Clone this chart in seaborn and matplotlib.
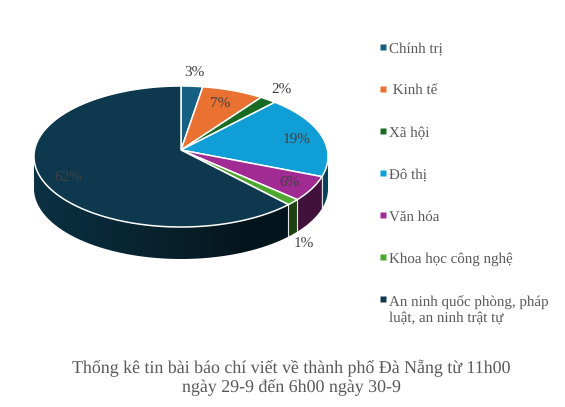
import numpy as np
import seaborn as sns
import matplotlib
matplotlib.use("Agg")
import matplotlib.pyplot as plt
from matplotlib.patches import Polygon

categories = ["Chính trị", " Kinh tế", "Xã hội", "Đô thị", "Văn hóa", "Khoa học công nghệ",
              "An ninh quốc phòng, pháp\nluật, an ninh trật tự"]
values = [2.6, 7.4, 2.0, 19.0, 5.6, 1.4, 62.0]
colors = ["#156082", "#e97132", "#196b24", "#0f9ed5", "#a02b93", "#4ea72e", "#0d384d"]
title = "Thống kê tin bài báo chí viết về thành phố Đà Nẵng từ 11h00\nngày 29-9 đến 6h00 ngày 30-9"

# layout, in pixels of the output
label_xy = [(194, 73), (220, 104), (281, 90), (297, 140), (290, 183), (304, 244), (68, 178)]
CX, CY = 181, 150
RX, RY, K = 146.4, 69.9, 0.0922  # K = how strong the perspective is
DEPTH = 32
LEG_Y, LEG_STEP, LEG_LINE = 47, 42, 17

sns.set_theme(style="white")
plt.rcParams["font.family"] = ["Liberation Serif", "DejaVu Serif"]
plt.rcParams["text.hinting"] = "no_hinting"


def project(theta):
    # tilted circle, theta clockwise from 12 o'clock in degrees
    t = np.radians(theta)
    w = 1 + K * np.cos(t)
    return CX + RX * np.sin(t) / w, CY - RY * np.cos(t) / w


fig = plt.figure(figsize=(5.65, 4.07), dpi=100)
ax = fig.add_axes([0, 0, 1, 1])
ax.axis("off")

edges = np.concatenate([[0], np.cumsum(values)]) * 3.6
side_lo, side_hi = 95.3, 264.7

# side wall: horizontal gradient clipped to each slice's outline
for i, col in enumerate(colors):
    lo, hi = max(edges[i], side_lo), min(edges[i + 1], side_hi)
    if hi <= lo:
        continue
    xs, ys = project(np.linspace(lo, hi, 80))
    outline = np.column_stack([np.r_[xs, xs[::-1]], np.r_[ys, ys[::-1] + DEPTH]])
    x0, x1 = xs.min(), xs.max()
    grid = np.linspace(x0, x1, 200)
    ramp = np.interp(grid, [34, 100, 181, 245, 328], [0.88, 0.72, 0.55, 0.36, 0.42])
    img = np.array(matplotlib.colors.to_rgb(col))[None, None, :] * ramp[None, :, None]
    im = ax.imshow(img, extent=[x0, x1, ys.max() + DEPTH, ys.min()], aspect="auto",
                   interpolation="bilinear", zorder=2)
    im.set_clip_path(Polygon(outline, transform=ax.transData))
    if edges[i + 1] < side_hi:
        xe, ye = project(edges[i + 1])
        ax.plot([xe, xe], [ye, ye + DEPTH], color="white", lw=0.8, alpha=0.85, zorder=3)

ax.set_xlim(0, 565)
ax.set_ylim(407, 0)

# top face
for i, col in enumerate(colors):
    arc = np.linspace(edges[i], edges[i + 1], max(int(values[i] * 5), 4))
    xs, ys = project(arc)
    ax.fill(np.r_[CX, xs], np.r_[CY, ys], facecolor=col, edgecolor="white", lw=1.1,
            joinstyle="round", zorder=4)

for i, (x, y) in enumerate(label_xy):
    ax.text(x, y, f"{values[i]:.0f}%", fontsize=11, color="#404040", ha="center", va="center", zorder=5)

# legend rows by hand, the last one has two lines and its square sits on the first
for i, (name, col) in enumerate(zip(categories, colors)):
    y = LEG_Y + LEG_STEP * i
    ax.plot([382.5], [y], marker="s", ms=3.7, mfc=col, mec="none", ls="none")
    ax.text(389, y + 5.5 + LEG_LINE * name.count("\n"), name, fontsize=10.8, color="#595959",
            ha="left", va="baseline", linespacing=1.1)

ax.text(291.5, 377, title, fontsize=12.9, color="#595959", ha="center", va="center", linespacing=1.1)

fig.savefig("out.png", dpi=100, facecolor="white")
